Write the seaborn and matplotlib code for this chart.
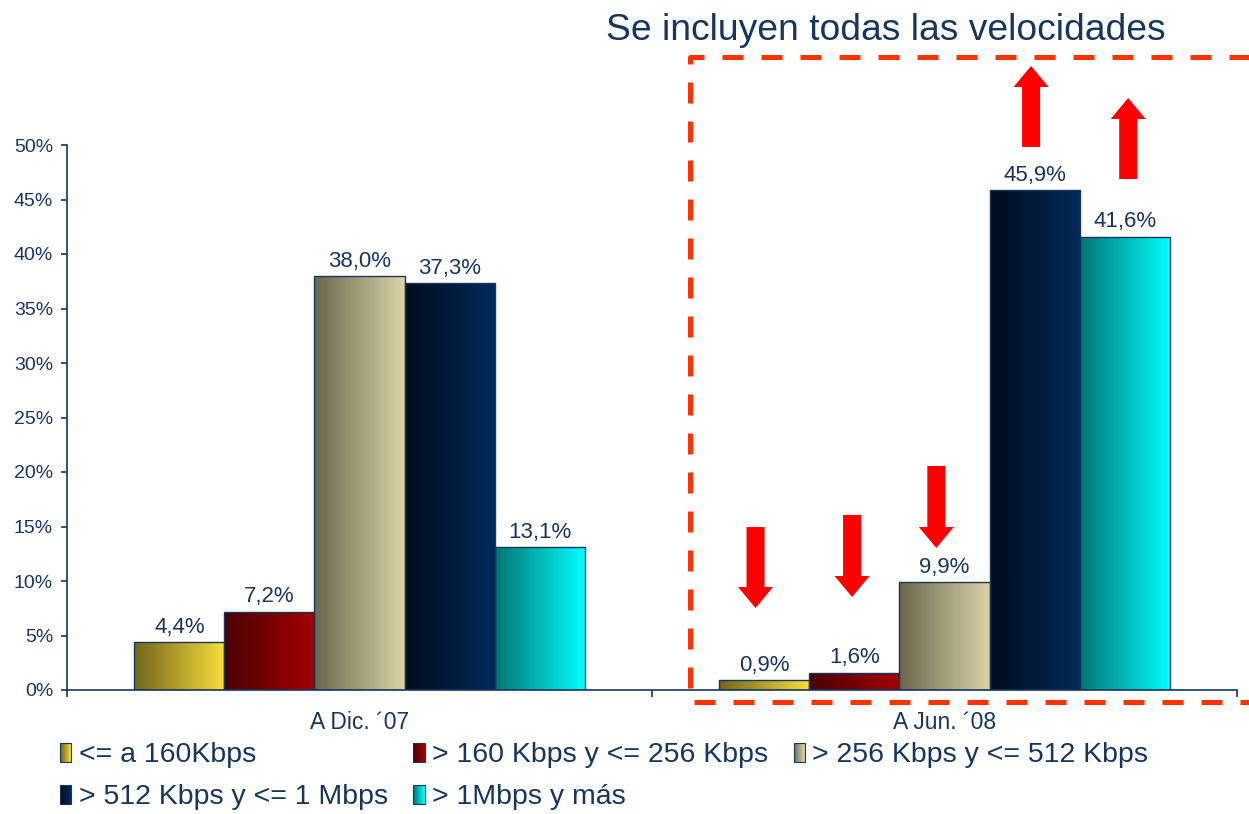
import numpy as np
import pandas as pd
import seaborn as sns
import matplotlib.pyplot as plt
from matplotlib.colors import LinearSegmentedColormap, to_rgb
from matplotlib.patches import Polygon, Rectangle
from matplotlib.lines import Line2D

categories = ["A Dic. \u00b407", "A Jun. \u00b408"]
speeds = ["<= a 160Kbps", "> 160 Kbps y <= 256 Kbps", "> 256 Kbps y <= 512 Kbps",
          "> 512 Kbps y <= 1 Mbps", "> 1Mbps y más"]
dic07 = [4.4, 7.2, 38.0, 37.3, 13.1]
jun08 = [0.9, 1.6, 9.9, 45.9, 41.6]

# degradados izquierda -> derecha de cada serie
grad_left = ["#74641c", "#4a0000", "#6a664c", "#000c1a", "#007672"]
grad_right = ["#f8de3a", "#a30000", "#dcd4a8", "#002a5c", "#00ffff"]

# flechas: x en datos, cola y punta en %
arrow_x = [0.677, 0.842, 0.986, 1.148, 1.314]
arrow_tail = [14.95, 16.06, 20.55, 49.82, 46.88]
arrow_tip = [7.52, 8.53, 13.03, 57.25, 54.31]

navy = "#17365d"

df = pd.DataFrame({
    "periodo": np.repeat(categories, len(speeds)),
    "velocidad": speeds * len(categories),
    "valor": dic07 + jun08,
})

sns.set_style("white")
plt.rcParams['font.family'] = ['Liberation Sans', 'DejaVu Sans']

W, H = 1249, 814
fig = plt.figure(figsize=(W / 100, H / 100), dpi=100)
ax = fig.add_axes([67 / W, 1 - 690 / H, 1170 / W, 545 / H])

sns.barplot(data=df, x="periodo", y="valor", hue="velocidad", hue_order=speeds,
            width=0.77, ax=ax, legend=False, edgecolor=navy, linewidth=1.0,
            palette=grad_right)

ax.set_xlim(-0.5, 1.5)
ax.set_ylim(0, 50)

# relleno en degradado para cada barra
for i, cont in enumerate(ax.containers):
    cmap = LinearSegmentedColormap.from_list(f"g{i}", [grad_left[i], grad_right[i]])
    grad = np.linspace(0, 1, 256).reshape(1, -1)
    for bar in cont:
        x, y = bar.get_x(), bar.get_y()
        w, h = bar.get_width(), bar.get_height()
        im = ax.imshow(grad, cmap=cmap, extent=[x, x + w, y, y + h],
                       aspect="auto", zorder=bar.get_zorder() - 0.1, origin="lower")
        im.set_clip_path(bar)
        bar.set_facecolor("none")
    labels = [f"{v:.1f}".replace(".", ",") + "%" for v in cont.datavalues]
    ax.bar_label(cont, labels=labels, padding=3, color=navy, fontsize=16)

ax.set_xlim(-0.5, 1.5)
ax.set_ylim(0, 50)

sns.despine(ax=ax)
for s in ["left", "bottom"]:
    ax.spines[s].set_color(navy)
    ax.spines[s].set_linewidth(1.2)

ax.set_yticks(range(0, 51, 5), [f"{v}%" for v in range(0, 51, 5)])
ax.tick_params(axis="y", colors=navy, labelcolor=navy, labelsize=14,
               length=4, width=1.2, direction="out", pad=6, left=True)
ax.set_xticks([-0.5, 0.5, 1.5], ["", "", ""])
ax.tick_params(axis="x", which="major", colors=navy, length=5, width=1.2,
               direction="out", bottom=True)
ax.set_xticks([0, 1], categories, minor=True)
ax.tick_params(axis="x", which="minor", length=0, pad=15, labelsize=16.5,
               labelcolor=navy)
ax.set_xlabel("")
ax.set_ylabel("")

# flechas rojas
dx = 2 / 1170
dy = 50 / 545
for xa, yt, yp in zip(arrow_x, arrow_tail, arrow_tip):
    sgn = np.sign(yp - yt)
    hb = yp - sgn * 21 * dy
    sw, hw = 9 * dx, 17.5 * dx
    pts = [(xa - sw, yt), (xa - sw, hb), (xa - hw, hb), (xa, yp),
           (xa + hw, hb), (xa + sw, hb), (xa + sw, yt)]
    ax.add_patch(Polygon(pts, closed=True, facecolor="#ff0000", edgecolor="none",
                         clip_on=False, zorder=5))

# recuadro discontinuo
fig.add_artist(Line2D(np.array([1265, 690, 690, 1265]) / W,
                      1 - np.array([57, 57, 702, 702]) / H,
                      color="#ff3300", linewidth=3.6, linestyle=(0, (4.2, 3.6)),
                      transform=fig.transFigure))

fig.text(606 / W, 1 - 30 / H, "Se incluyen todas las velocidades", color=navy,
         fontsize=26.8, va="center", ha="left")


# leyenda con degradado
class GradHandler:
    def legend_artist(self, legend, orig_handle, fontsize, handlebox):
        i = orig_handle
        x0, y0 = handlebox.xdescent, handlebox.ydescent
        w, h = handlebox.width, handlebox.height
        n = 12
        c0 = np.array(to_rgb(grad_left[i]))
        c1 = np.array(to_rgb(grad_right[i]))
        for k in range(n):
            c = c0 + (c1 - c0) * k / (n - 1)
            handlebox.add_artist(Rectangle((x0 + w * k / n, y0), w / n + 0.2, h,
                                           facecolor=c, edgecolor="none",
                                           transform=handlebox.get_transform()))
        edge = Rectangle((x0, y0), w, h, facecolor="none", edgecolor=navy,
                         linewidth=0.8, transform=handlebox.get_transform())
        handlebox.add_artist(edge)
        return edge


order = [0, 3, 1, 4, 2]
leg = fig.legend(order, [speeds[k] for k in order],
                 handler_map={int: GradHandler()}, ncol=3, frameon=False,
                 loc="upper left", bbox_to_anchor=(60 / W, 1 - 742 / H),
                 borderaxespad=0, borderpad=0, fontsize=20.5,
                 handlelength=0.4, handleheight=0.65, handletextpad=0.25,
                 columnspacing=0.9, labelspacing=0.55)
for t in leg.get_texts():
    t.set_color(navy)

fig.savefig("out.png", dpi=100)
